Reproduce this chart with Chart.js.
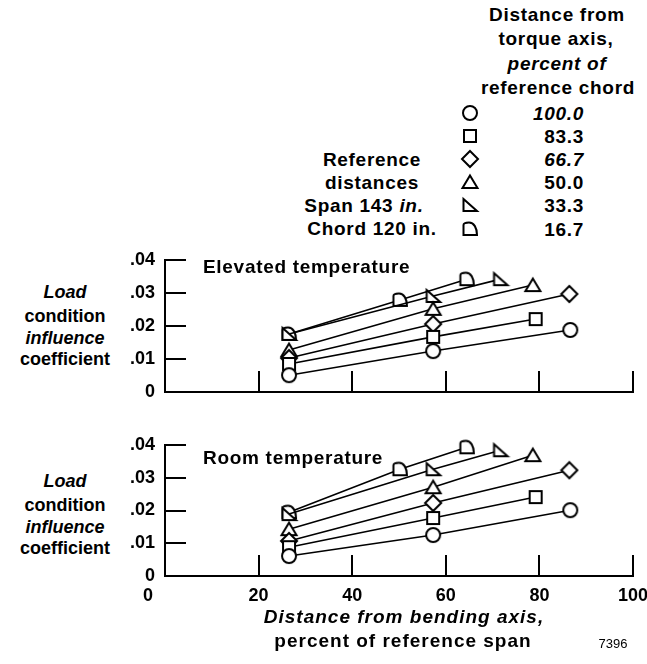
<!DOCTYPE html>
<html>
<head>
<meta charset="utf-8">
<script src="https://cdn.jsdelivr.net/npm/chart.js@4.4.1/dist/chart.umd.min.js"></script>
<style>
  body { margin: 0; background: #fff; width: 647px; height: 664px; position: relative; overflow: hidden;
         font-family: "Liberation Sans", Arial, sans-serif; font-weight: bold; color: #000; }
  .t { position: absolute; white-space: nowrap; line-height: 1; font-size: 19px; letter-spacing: 0.7px; }
  .ax { font-size: 18px; letter-spacing: 0; }
  .xt { letter-spacing: 1px; }
  .c { transform: translate(-50%, -50%); }
  .r { transform: translate(-100%, -50%); }
  .l { transform: translate(0, -50%); }
  .sym { position: absolute; }
  canvas.chart { position: absolute; left: 0; }
  i { font-style: italic; }
</style>
</head>
<body>

<!-- legend -->
<div class="t c" style="left:557px; top:14px">Distance from</div>
<div class="t c" style="left:556px; top:38px">torque axis,</div>
<div class="t c" style="left:557px; top:63px"><i>percent of</i></div>
<div class="t c" style="left:558px; top:87px">reference chord</div>
<div id="legendRows"></div>
<div class="t c" style="left:372px; top:159px">Reference</div>
<div class="t c" style="left:372px; top:182px">distances</div>
<div class="t c" style="left:364px; top:205px">Span 143 <i>in.</i></div>
<div class="t c" style="left:372px; top:228px">Chord 120 in.</div>

<!-- y axis titles -->
<div class="t ax c" style="left:65px; top:292px"><i>Load</i></div>
<div class="t ax c" style="left:65px; top:316px">condition</div>
<div class="t ax c" style="left:65px; top:338px"><i>influence</i></div>
<div class="t ax c" style="left:65px; top:359px">coefficient</div>

<div class="t ax c" style="left:65px; top:481px"><i>Load</i></div>
<div class="t ax c" style="left:65px; top:505px">condition</div>
<div class="t ax c" style="left:65px; top:527px"><i>influence</i></div>
<div class="t ax c" style="left:65px; top:548px">coefficient</div>

<canvas id="elevated" class="chart" width="647" height="180" style="top:240px"></canvas>
<canvas id="room" class="chart" width="647" height="239" style="top:425px"></canvas>

<div class="t l" style="left:203px; top:266px">Elevated temperature</div>
<div class="t l" style="left:203px; top:457px">Room temperature</div>

<div class="t ax c" style="left:148px; top:595px">0</div>
<div class="t xt c" style="left:404px; top:616px"><i>Distance from bending axis,</i></div>
<div class="t xt c" style="left:403px; top:640px">percent of reference span</div>
<div class="t c" style="left:613px; top:643px; font-size:13px; font-weight:normal; letter-spacing:0">7396</div>

<script>
// chord positions (percent of reference chord), one series each
const seriesLabels = ["100.0", "83.3", "66.7", "50.0", "33.3", "16.7"];
const markerNames = ["circle", "square", "diamond", "triangle", "rightTriangle", "dome"];

// distance from bending axis, percent of reference span
const xCircle = [26.5, 57.3, 86.6];
const xSquare = [26.5, 57.3, 79.2];
const xDiamond = [26.5, 57.3, 86.4];
const xTriangle = [26.5, 57.3, 78.6];
const xRightTri = [26.5, 57.3, 71.7];
const xDome = [26.5, 50.2, 64.5];

// elevated temperature
const elevCircle = [0.0051, 0.0124, 0.0188];
const elevSquare = [0.0085, 0.0167, 0.0221];
const elevDiamond = [0.0103, 0.0206, 0.0297];
const elevTriangle = [0.0127, 0.0252, 0.0324];
const elevRightTri = [0.0176, 0.0291, 0.0342];
const elevDome = [0.0176, 0.0279, 0.0342];

// room temperature
const roomCircle = [0.0061, 0.0125, 0.0201];
const roomSquare = [0.0088, 0.0177, 0.0241];
const roomDiamond = [0.0107, 0.0223, 0.0323];
const roomTriangle = [0.0143, 0.0271, 0.0369];
const roomRightTri = [0.0189, 0.0326, 0.0384];
const roomDome = [0.0195, 0.0326, 0.0393];

const yTicks = [0, 0.01, 0.02, 0.03, 0.04];
const xTicks = [0, 20, 40, 60, 80, 100];

const xSets = [xCircle, xSquare, xDiamond, xTriangle, xRightTri, xDome];
const elevSets = [elevCircle, elevSquare, elevDiamond, elevTriangle, elevRightTri, elevDome];
const roomSets = [roomCircle, roomSquare, roomDiamond, roomTriangle, roomRightTri, roomDome];

function drawMarker(ctx, name) {
    ctx.beginPath();
    if (name === "circle") {
        ctx.arc(10, 10, 7, 0, Math.PI * 2);
    } else if (name === "square") {
        ctx.rect(4, 4, 12, 12);
    } else if (name === "diamond") {
        ctx.moveTo(10, 2); ctx.lineTo(18, 10); ctx.lineTo(10, 18); ctx.lineTo(2, 10);
    } else if (name === "triangle") {
        ctx.moveTo(10, 3.5); ctx.lineTo(17.5, 16); ctx.lineTo(2.5, 16);
    } else if (name === "rightTriangle") {
        ctx.moveTo(3.5, 4); ctx.lineTo(3.5, 16); ctx.lineTo(17, 16);
    } else {
        // quarter-ellipse "dome"
        ctx.moveTo(3.5, 16); ctx.lineTo(3.5, 6);
        ctx.bezierCurveTo(3.5, 4, 6, 3.5, 9, 3.5);
        ctx.bezierCurveTo(14, 3.5, 17, 9, 17, 16);
    }
    ctx.closePath();
    ctx.fillStyle = "#fff";
    ctx.fill();
    ctx.lineWidth = 2;
    ctx.strokeStyle = "#000";
    ctx.stroke();
}

function markerCanvas(name) {
    const cv = document.createElement("canvas");
    cv.width = 20; cv.height = 20;
    drawMarker(cv.getContext("2d"), name);
    return cv;
}

const markers = markerNames.map(markerCanvas);

// legend rows
const rows = document.getElementById("legendRows");
seriesLabels.forEach((lab, i) => {
    const y = 112.5 + i * 23.2;
    const sym = markerCanvas(markerNames[i]);
    sym.className = "sym";
    sym.style.left = (470 - 10) + "px";
    sym.style.top = (y - 10) + "px";
    rows.appendChild(sym);
    const d = document.createElement("div");
    d.className = "t r";
    d.style.left = "584px";
    d.style.top = y + "px";
    d.innerHTML = (i === 0 || i === 2) ? "<i>" + lab + "</i>" : lab;
    rows.appendChild(d);
});

const inwardTicks = {
    id: "inwardTicks",
    afterDatasetsDraw(chart) {
        const { ctx, chartArea: a, scales: { x, y } } = chart;
        ctx.save();
        ctx.strokeStyle = "#000";
        ctx.lineWidth = 2;
        ctx.beginPath();
        yTicks.slice(1).forEach((v) => {
            const py = Math.round(y.getPixelForValue(v));
            ctx.moveTo(a.left, py); ctx.lineTo(a.left + 21, py);
        });
        xTicks.slice(1).forEach((v) => {
            const px = Math.round(x.getPixelForValue(v));
            ctx.moveTo(px, a.bottom); ctx.lineTo(px, a.bottom - 21);
        });
        ctx.stroke();
        ctx.restore();
    }
};

function makeChart(id, ySets, showX, xHeight) {
    const datasets = ySets.map((ys, i) => ({
        label: seriesLabels[i],
        data: ys.map((v, j) => ({ x: xSets[i][j], y: v })),
        borderColor: "#000",
        borderWidth: 1.6,
        pointStyle: markers[i],
        pointRadius: 8,
        pointHoverRadius: 8,
        tension: 0,
        clip: false,
    }));
    return new Chart(document.getElementById(id), {
        type: "line",
        data: { datasets },
        plugins: [inwardTicks],
        options: {
            responsive: false,
            animation: false,
            devicePixelRatio: 1,
            layout: { padding: { top: 20, right: 14, left: 0, bottom: 0 } },
            plugins: { legend: { display: false }, tooltip: { enabled: false } },
            scales: {
                x: {
                    type: "linear",
                    min: 0, max: 100,
                    afterBuildTicks: (s) => { s.ticks = xTicks.map((v) => ({ value: v })); },
                    afterFit: (s) => { s.height = xHeight; s.paddingLeft = 0; s.paddingRight = 0; },
                    grid: { display: false, drawTicks: false },
                    border: { display: true, color: "#000", width: 2 },
                    ticks: {
                        display: showX,
                        padding: 9,
                        color: "#000",
                        font: { family: "Liberation Sans", size: 18, weight: "bold" },
                        callback: (v) => v === 0 ? "" : String(v),
                    },
                },
                y: {
                    type: "linear",
                    min: 0, max: 0.04,
                    afterBuildTicks: (s) => { s.ticks = yTicks.map((v) => ({ value: v })); },
                    afterFit: (s) => { s.width = 165; s.paddingTop = 0; s.paddingBottom = 0; },
                    grid: { display: false, drawTicks: false },
                    border: { display: true, color: "#000", width: 2 },
                    ticks: {
                        padding: 10,
                        color: "#000",
                        font: { family: "Liberation Sans", size: 18, weight: "bold" },
                        callback: (v) => v === 0 ? "0" : ".0" + Math.round(v * 100),
                    },
                },
            },
        },
    });
}

makeChart("elevated", elevSets, false, 28);
makeChart("room", roomSets, true, 88);
</script>
</body>
</html>
